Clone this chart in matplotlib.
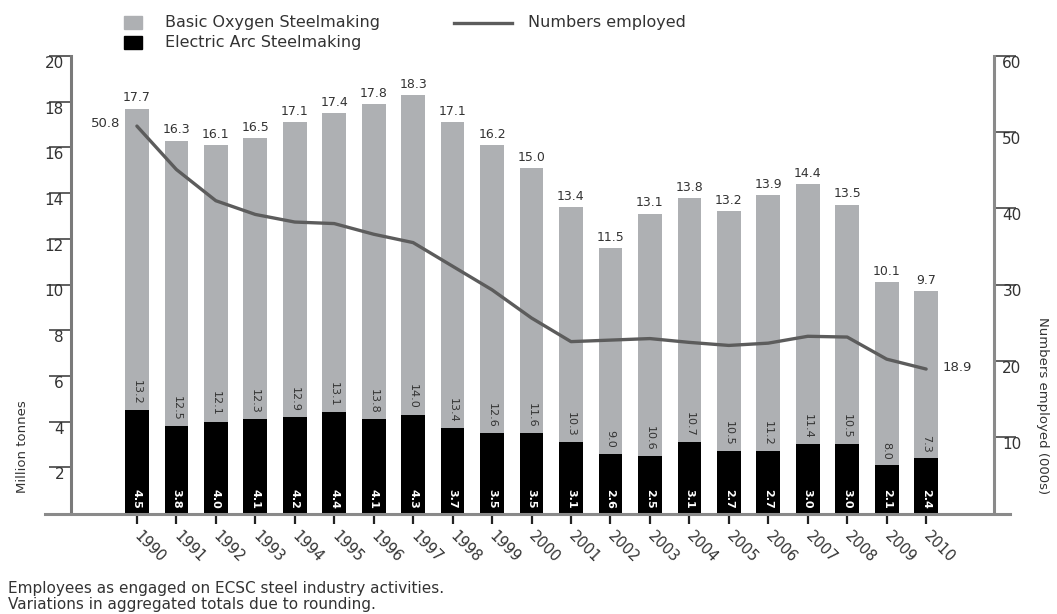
import matplotlib
matplotlib.use('Agg')
import matplotlib.pyplot as plt
from matplotlib.lines import Line2D
from matplotlib.patches import Rectangle

years = [str(y) for y in range(1990, 2011)]
eaf = [4.5, 3.8, 4.0, 4.1, 4.2, 4.4, 4.1, 4.3, 3.7, 3.5, 3.5, 3.1, 2.6, 2.5, 3.1, 2.7, 2.7, 3.0, 3.0, 2.1, 2.4]
bos = [13.2, 12.5, 12.1, 12.3, 12.9, 13.1, 13.8, 14.0, 13.4, 12.6, 11.6, 10.3, 9.0, 10.6, 10.7, 10.5, 11.2, 11.4, 10.5, 8.0, 7.3]
totals = [17.7, 16.3, 16.1, 16.5, 17.1, 17.4, 17.8, 18.3, 17.1, 16.2, 15.0, 13.4, 11.5, 13.1, 13.8, 13.2, 13.9, 14.4, 13.5, 10.1, 9.7]
employed = [50.8, 45.1, 41.0, 39.2, 38.2, 38.0, 36.6, 35.5, 32.4, 29.3, 25.6, 22.5, 22.7, 22.9, 22.4, 22.0, 22.3, 23.2, 23.1, 20.2, 18.9]
left_ticks = [2, 4, 6, 8, 10, 12, 14, 16, 18, 20]
right_ticks = [10, 20, 30, 40, 50, 60]

GREY = '#aeb0b3'
TXT = '#333333'
SPINE = '#8a8a8a'
LINE = '#5c5c5c'

W, H = 1057, 614
plt.rcParams['font.family'] = ['DejaVu Sans']
fig = plt.figure(figsize=(W / 100, H / 100), dpi=100)

def fx(px):
    return px / W

def fy(py):
    return 1 - py / H

ax = fig.add_axes([fx(71), fy(513), fx(994) - fx(71), fy(56) - fy(513)])
x = list(range(len(years)))
ax.bar(x, eaf, width=0.6, color='black', zorder=2)
ax.bar(x, bos, bottom=eaf, width=0.6, color=GREY, zorder=2)
ax.set_xlim(-1.67, len(years) - 1 + 1.72)
ax.set_ylim(0, 20)

for i in x:
    top = eaf[i] + bos[i]
    ax.annotate(f"{totals[i]:.1f}", (i, top), xytext=(0, 3), textcoords='offset points',
                ha='center', va='bottom', fontsize=9, color=TXT)
    ax.annotate(f"{bos[i]:.1f}", (i, eaf[i]), xytext=(0, 4), textcoords='offset points',
                ha='center', va='bottom', rotation=-90, fontsize=8, color=TXT)
    ax.annotate(f"{eaf[i]:.1f}", (i, 0), xytext=(0, 3), textcoords='offset points',
                ha='center', va='bottom', rotation=-90, fontsize=8, color='white',
                fontweight='bold')

ax.set_xticks(x)
ax.set_xticklabels(years, rotation=-45, ha='left', va='center', rotation_mode='anchor',
                   fontsize=10.5, color=TXT)
ax.tick_params(axis='x', length=8, width=1.6, color='#222222', pad=7)
ax.set_yticks(left_ticks)
ax.set_yticklabels([str(t) for t in left_ticks], fontsize=11, color=TXT, va='top')
ax.tick_params(axis='y', direction='out', length=16, width=1.2, color='#444444', pad=-11)

for s in ['top', 'right', 'bottom']:
    ax.spines[s].set_visible(False)
ax.spines['left'].set_color('#7a7a7a')
ax.spines['left'].set_linewidth(2.2)

ax2 = ax.twinx()
ax2.plot(x, employed, color=LINE, lw=2.4, solid_capstyle='round', solid_joinstyle='round', zorder=5)
ax2.set_ylim(0, 60)
ax2.set_yticks(right_ticks)
ax2.set_yticklabels([str(t) for t in right_ticks], fontsize=11, color=TXT, va='top')
ax2.tick_params(axis='y', direction='out', length=16, width=1.2, color='#444444', pad=-10)
for s in ['top', 'left', 'bottom']:
    ax2.spines[s].set_visible(False)
ax2.spines['right'].set_color(SPINE)
ax2.spines['right'].set_linewidth(2.2)

ax2.annotate(f"{employed[0]:.1f}", (x[0], employed[0]), xytext=(-12, 2), textcoords='offset points',
             ha='right', va='center', fontsize=9.5, color=TXT)
ax2.annotate(f"{employed[-1]:.1f}", (x[-1], employed[-1]), xytext=(12, 1), textcoords='offset points',
             ha='left', va='center', fontsize=9.5, color=TXT)

# extended baseline
fig.add_artist(Line2D([fx(45), fx(1010)], [fy(514), fy(514)], color=SPINE, lw=2.2))

fig.text(fx(22), fy(447), 'Million tonnes', rotation=90, ha='center', va='center',
         fontsize=9.5, color=TXT)
fig.text(fx(1043), fy(406), 'Numbers employed (000s)', rotation=-90, ha='center', va='center',
         fontsize=9.5, color=TXT)

# legend
fig.add_artist(Rectangle((fx(124), fy(29)), fx(18), fy(16) - fy(29), color=GREY, transform=fig.transFigure))
fig.add_artist(Rectangle((fx(124), fy(49)), fx(18), fy(36) - fy(49), color='black', transform=fig.transFigure))
fig.text(fx(165), fy(22), 'Basic Oxygen Steelmaking', ha='left', va='center', fontsize=11.5, color=TXT)
fig.text(fx(165), fy(43), 'Electric Arc Steelmaking', ha='left', va='center', fontsize=11.5, color=TXT)
fig.add_artist(Line2D([fx(454), fx(512)], [fy(23), fy(23)], color=LINE, lw=2.4))
fig.text(fx(528), fy(22), 'Numbers employed', ha='left', va='center', fontsize=11.5, color=TXT)

fig.text(fx(8), fy(589), 'Employees as engaged on ECSC steel industry activities.',
         ha='left', va='center', fontsize=11, color=TXT)
fig.text(fx(8), fy(605), 'Variations in aggregated totals due to rounding.',
         ha='left', va='center', fontsize=11, color=TXT)

fig.savefig('out.png', dpi=100)
